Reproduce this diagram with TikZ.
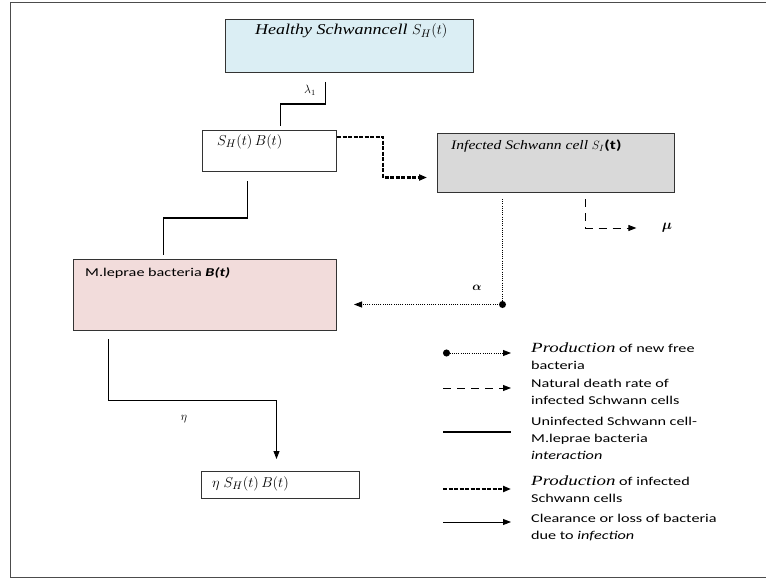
\documentclass[tikz,border=0pt]{standalone}
\usepackage{fontspec}
\usepackage{bm}
\setmainfont{Carlito}[FakeStretch=1.35]
\newfontfamily\serifit{Liberation Serif}[FakeStretch=1.2]
\newfontfamily\serifwide{Liberation Serif}[FakeStretch=1.35]
\usetikzlibrary{arrows.meta, calc}
\definecolor{healthycolor}{RGB}{219,238,244}
\definecolor{infectedcolor}{RGB}{217,217,217}
\definecolor{bacteriacolor}{RGB}{242,220,219}
\newcommand{\emphword}[1]{{\fontsize{14}{17}\selectfont\serifwide\itshape #1}}

\begin{document}
\begin{tikzpicture}[
    x=1pt, y=-1pt,
    font=\fontsize{12}{17}\selectfont,
    compartment/.style={draw=black!80, line width=1pt, anchor=north west, inner sep=0pt},
    boxtext/.style={anchor=north west, inner sep=0pt, align=left, label distance=0pt},
    legendtext/.style={anchor=north west, inner sep=0pt, align=left},
    mathtext/.style={font=\fontsize{15}{17}\selectfont},
    tip/.style={-{Triangle[length=8pt, width=6pt]}},
    link/.style={line width=1.6pt},
    infect/.style={tip, line width=2.4pt, dash pattern=on 4pt off 1.5pt},
    release/.style={tip, line width=0.9pt, dash pattern=on 1pt off 1.2pt},
    death/.style={tip, line width=0.9pt, dash pattern=on 8pt off 6pt},
    clear/.style={tip, line width=0.9pt}
]
    \useasboundingbox (0,0) rectangle (766,578);
    % frame
    \draw[black!70, line width=1pt] (770,3) -- (10,3) -- (10,577) -- (770,577);

    % Compartments
    \node[compartment, fill=healthycolor, minimum width=248pt, minimum height=53pt,
        label={[boxtext, shift={(30,5)}]north west:{\fontsize{15}{17}\selectfont\serifit\itshape Healthy Schwanncell $S_H(t)$}}]
        (healthy) at (225,19) {};
    \node[compartment, minimum width=134pt, minimum height=41pt,
        label={[boxtext, mathtext, shift={(15,4)}]north west:{$S_H(t)\,B(t)$}}]
        (shb) at (202,130) {};
    \node[compartment, fill=infectedcolor, minimum width=237pt, minimum height=59pt,
        label={[boxtext, shift={(14,7)}]north west:{\fontsize{13}{16}\selectfont\serifit\itshape Infected Schwann cell $S_I$\normalfont\bfseries(t)}}]
        (infected) at (437,133) {};
    \node[compartment, fill=bacteriacolor, minimum width=263pt, minimum height=71pt,
        label={[boxtext, shift={(12,8)}]north west:{M.leprae bacteria \textbf{\textit{B(t)}}}}]
        (bacteria) at (73,259) {};
    \node[compartment, minimum width=158pt, minimum height=27pt,
        label={[boxtext, mathtext, shift={(11,5)}]north west:{$\eta\; S_H(t)\,B(t)$}}]
        (result) at (201,471) {};

    % Rate labels
    \node (lambda) at (310,90) {$\lambda_1$};
    \node[font=\fontsize{14}{17}\selectfont] (mu) at (667,228) {$\bm{\mu}$};
    \node[font=\fontsize{13}{17}\selectfont] (alpha) at (477,288) {$\bm{\alpha}$};
    \node[font=\fontsize{13}{17}\selectfont] (eta) at (184,419) {$\eta$};

    % Connections
    \draw[link] ([shift={(-24,9)}]healthy.south) -- ++(0,22) -| ([shift={(11,-4)}]shb.north);
    \draw[link] ([shift={(-22,9)}]shb.south) -- ++(0,37) -| ([shift={(-41.5,-4)}]bacteria.north);
    \draw[infect] ([shift={(0,7)}]shb.north east) -- ++(46,0) |- ([shift={(-10,14.5)}]infected.west);
    \draw[death] ([shift={(29.5,6)}]infected.south) |- ([xshift=-22pt]mu.west);
    \draw[release] ([shift={(-53.5,6)}]infected.south) |- coordinate[pos=0.5] (burst) ([shift={(17,9.5)}]bacteria.east);
    \fill (burst) circle (3.5pt);
    \draw[clear] ([shift={(-96.5,8)}]bacteria.south) -- ++(0,61) -| ([shift={(-4,-12)}]result.north);

    % Legend
    \coordinate (key1) at (443,353);
    \coordinate (key2) at (443,388);
    \coordinate (key3) at (443,432);
    \coordinate (key4) at (443,489);
    \coordinate (key5) at (443,522);
    \draw[release, {Circle[length=7pt]}-{Triangle[length=8pt, width=6pt]}] (key1) -- ++(68,0);
    \draw[death] (key2) -- ++(68,0);
    \draw[link] (key3) -- ++(68,0);
    \draw[infect] (key4) -- ++(68,0);
    \draw[clear] (key5) -- ++(68,0);
    \node[legendtext] (legfree) at (531,343) {\emphword{Production} of new free\\bacteria};
    \node[legendtext] (legdeath) at (531,379) {Natural death rate of\\infected Schwann cells};
    \node[legendtext] (leginter) at (531,417) {Uninfected Schwann cell-\\M.leprae bacteria\\\textit{interaction}};
    \node[legendtext] (leginf) at (531,476) {\emphword{Production} of infected\\Schwann cells};
    \node[legendtext] (legclear) at (531,514) {Clearance or loss of bacteria\\due to \textit{infection}};
\end{tikzpicture}
\end{document}
